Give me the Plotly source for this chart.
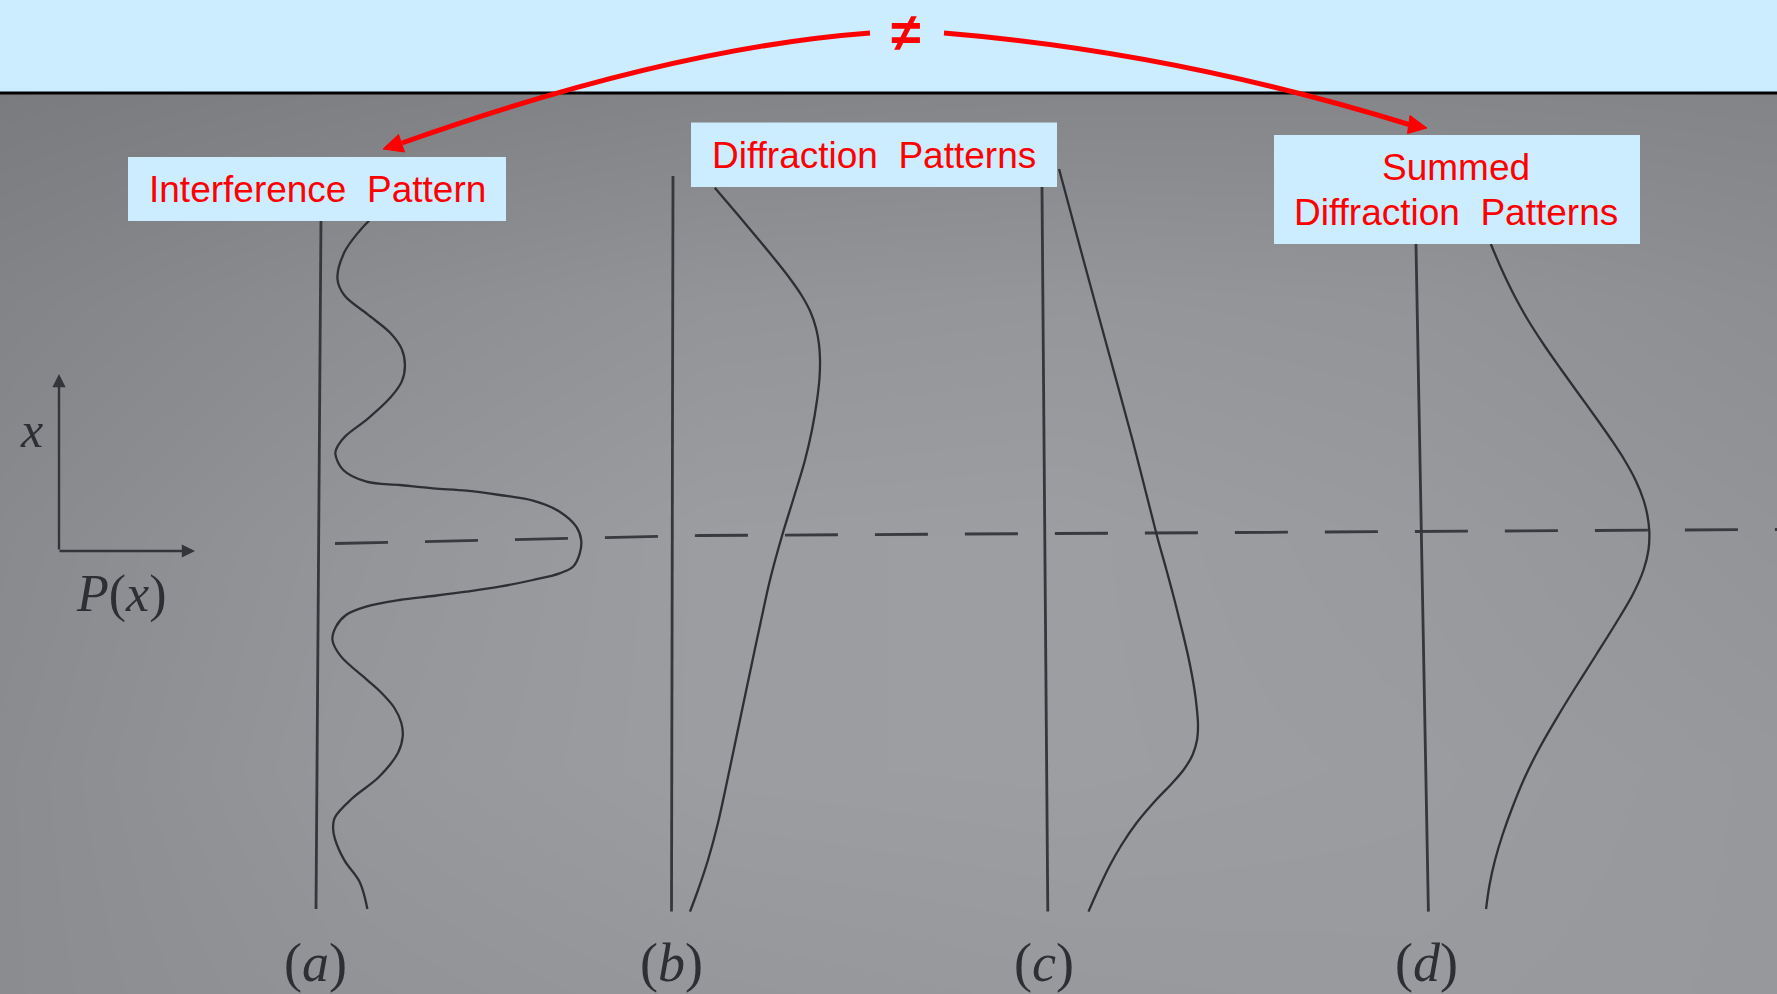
import plotly.graph_objects as go

W, H = 1777, 994

# ---- curve samples: height above the centre line (px) and P(x) measured from each panel's axis ----
A_POS = [322.5, 312.3, 290.7, 264.0, 247.7, 228.8, 210.0, 193.9, 177.7, 161.6, 145.4, 123.9, 107.8,
         98.0, 89.7, 73.0, 61.3, 58.0, 54.7, 52.3, 48.0, 42.3, 31.3, 16.3, 3.0,
         -10.3, -23.7, -30.3, -37.0, -43.7, -48.7, -53.0, -57.0, -63.7, -72.0, -83.7, -97.0,
         -112.9, -137.1, -150.0, -165.0, -180.0, -193.0, -209.8, -234.0, -255.5, -274.4, -285.0,
         -295.9, -317.4, -339.0, -365.9]
A_P = [48.3, 38.8, 23.6, 16.9, 23.9, 47.1, 70.2, 81.7, 85.0, 82.0, 70.7, 47.8, 27.0,
       19.0, 16.0, 24.1, 47.5, 80.8, 114.1, 147.5, 180.8, 214.1, 240.8, 257.5, 262.5,
       261.2, 254.5, 241.2, 214.5, 181.2, 147.9, 114.5, 81.2, 47.9, 27.9, 17.9, 14.5,
       22.7, 49.7, 64.0, 77.0, 84.0, 85.5, 80.9, 61.9, 35.3, 18.2, 16.5,
       18.4, 28.1, 43.5, 51.4]

B_POS = [349.3, 322, 297, 275, 257, 241, 225, 209, 193, 177, 159, 137, 107, 77, 37, 1,
         -43, -86, -133, -178, -233, -286, -323, -353, -374.6]
B_P = [41.8, 65.1, 86.1, 104.2, 118.2, 129.2, 137.8, 143.3, 146.3, 147.4, 146.9, 144.5, 139.5,
       132.6, 120.7, 109.7, 97.8, 88.4, 78.5, 69.1, 57.7, 46.3, 36.4, 26.5, 18.5]

C_POS = [364, 273, 183, 93, -3, -37, -67, -97, -127, -157, -177, -192, -207, -222, -237, -252,
         -267, -290, -312, -333, -357, -378.6]
C_P = [17.2, 40.9, 64.7, 88.5, 112.2, 121.4, 129.2, 136.5, 143.2, 148.5, 150.8, 151.7, 150.6,
       146.0, 136.8, 123.7, 109.1, 89.4, 74.2, 62.1, 50.4, 40.7]

D_POS = [287, 261, 236, 211, 186, 161, 136, 111, 91, 71, 51, 31, 15, -1, -19, -39, -64, -92,
         -124, -154, -184, -216, -246, -276, -304, -329, -354, -378]
D_P = [74.8, 85.5, 97.1, 110.6, 126.2, 143.2, 160.7, 178.3, 191.9, 204.5, 215.1, 222.8, 226.5,
       228.0, 226.8, 221.5, 210.0, 193.0, 172.4, 152.8, 133.8, 114.7, 99.1, 86.1, 75.5, 67.6,
       61.6, 57.7]

PANEL_TAGS = ["a", "b", "c", "d"]

# ---- page geometry of the four panels (axis top, axis bottom, centre-line height) ----
panels = [
    dict(pos=A_POS, p=A_P, top=(321.3, 176), bot=(316.0, 909.0), cy=543.0, tag=(315, 963)),
    dict(pos=B_POS, p=B_P, top=(673.0, 176), bot=(671.5, 911.6), cy=537.0, tag=(671, 963)),
    dict(pos=C_POS, p=C_P, top=(1041.9, 176), bot=(1047.8, 911.6), cy=533.0, tag=(1044, 963)),
    dict(pos=D_POS, p=D_P, top=(1414.7, 176), bot=(1428.4, 911.6), cy=531.0, tag=(1426, 963)),
]

# faint photographic shading of the printed page
BG_X = [0, 355, 710, 1065, 1420, 1777]
BG_Y = [94, 300, 540, 770, 994]
BG_Z = [
    [122, 127, 131, 133, 133, 131],
    [131, 140, 147, 149, 147, 141],
    [137, 148, 156, 157, 153, 147],
    [139, 150, 156, 157, 155, 151],
    [139, 146, 150, 152, 153, 151],
]

INK = "#2e2f34"
RED = "#ff0000"
BLUE_BOX = "#ccecff"

fig = go.Figure()

fig.add_trace(go.Heatmap(
    x=BG_X, y=BG_Y, z=BG_Z, zsmooth="best", showscale=False, hoverinfo="skip",
    zmin=100, zmax=180,
    colorscale=[[0, "rgb(100,101,105)"], [1, "rgb(180,181,185)"]],
))


def axis_x(pn, y):
    (x0, y0), (x1, y1) = pn["top"], pn["bot"]
    return x0 + (x1 - x0) * (y - y0) / (y1 - y0)


# dashed centre line across the panels
fig.add_trace(go.Scatter(
    x=[335, 700, 1777], y=[543.5, 535.5, 529.5], mode="lines",
    line=dict(color="#393a3f", width=2.8, dash="53px,37px"), hoverinfo="skip", showlegend=False,
))

for pn in panels:
    # vertical axis of the panel
    fig.add_trace(go.Scatter(
        x=[pn["top"][0], pn["bot"][0]], y=[pn["top"][1], pn["bot"][1]], mode="lines",
        line=dict(color="#36373c", width=2.8), hoverinfo="skip", showlegend=False,
    ))
    ys = [pn["cy"] - s for s in pn["pos"]]
    xs = [axis_x(pn, y) + p for y, p in zip(ys, pn["p"])]
    fig.add_trace(go.Scatter(
        x=xs, y=ys, mode="lines",
        line=dict(color=INK, width=2.3, shape="spline", smoothing=1.0, simplify=False),
        hoverinfo="skip", showlegend=False,
    ))

shapes = []
# title band
shapes.append(dict(type="rect", xref="x", yref="y", x0=0, x1=W, y0=-5, y1=93,
                   fillcolor=BLUE_BOX, line=dict(width=0), layer="above"))
shapes.append(dict(type="line", xref="x", yref="y", x0=0, x1=W, y0=93, y1=93,
                   line=dict(color="#000000", width=3), layer="above"))
# label boxes
for x0, x1, y0, y1 in [(128, 506, 157, 221), (691, 1057, 122.5, 187), (1274, 1640, 135, 244)]:
    shapes.append(dict(type="rect", xref="x", yref="y", x0=x0, x1=x1, y0=y0, y1=y1,
                       fillcolor=BLUE_BOX, line=dict(width=0), layer="above"))
# curved red arrows from the "not equal" sign
shapes.append(dict(type="path", xref="x", yref="y", path="M870,33 Q670,48 402,143",
                   line=dict(color=RED, width=5), layer="above"))
shapes.append(dict(type="path", xref="x", yref="y", path="M944,33 Q1175,52 1409,124.5",
                   line=dict(color=RED, width=5), layer="above"))
shapes.append(dict(type="path", xref="x", yref="y", path="M383,149 L398.5,134.5 L404.5,152 Z",
                   fillcolor=RED, line=dict(color=RED, width=1), layer="above"))
shapes.append(dict(type="path", xref="x", yref="y", path="M1427,128 L1410,115.5 L1407.5,133.5 Z",
                   fillcolor=RED, line=dict(color=RED, width=1), layer="above"))

annotations = []
# x / P(x) orientation arrows
annotations.append(dict(x=59, y=374, ax=59, ay=551, xref="x", yref="y", axref="x", ayref="y",
                        text="", showarrow=True, arrowhead=2, arrowsize=1.1, arrowwidth=2.4,
                        arrowcolor="#34353a"))
annotations.append(dict(x=195, y=551, ax=58, ay=551, xref="x", yref="y", axref="x", ayref="y",
                        text="", showarrow=True, arrowhead=2, arrowsize=1.1, arrowwidth=2.4,
                        arrowcolor="#34353a"))
serif = dict(family="Liberation Serif, DejaVu Serif, serif", color=INK)
annotations.append(dict(x=31, y=430, xref="x", yref="y", text="<i>x</i>", showarrow=False,
                        font=dict(size=50, **serif)))
annotations.append(dict(x=121, y=594, xref="x", yref="y", text="<i>P</i>(<i>x</i>)", showarrow=False,
                        font=dict(size=52, **serif)))
for pn, tag in zip(panels, PANEL_TAGS):
    annotations.append(dict(x=pn["tag"][0], y=pn["tag"][1], xref="x", yref="y",
                            text=f"(<i>{tag}</i>)", showarrow=False, font=dict(size=54, **serif)))

sans = dict(family="Liberation Sans, Arial, sans-serif", color=RED)
annotations.append(dict(x=906, y=32, xref="x", yref="y", text="<b>\u2260</b>", showarrow=False,
                        font=dict(size=54, **sans)))
annotations.append(dict(x=317, y=189, xref="x", yref="y", text="Interference\u00a0 Pattern",
                        showarrow=False, font=dict(size=37, **sans)))
annotations.append(dict(x=874, y=155, xref="x", yref="y", text="Diffraction\u00a0 Patterns",
                        showarrow=False, font=dict(size=37, **sans)))
annotations.append(dict(x=1456, y=167, xref="x", yref="y", text="Summed",
                        showarrow=False, font=dict(size=37, **sans)))
annotations.append(dict(x=1456, y=212, xref="x", yref="y", text="Diffraction\u00a0 Patterns",
                        showarrow=False, font=dict(size=37, **sans)))

fig.update_layout(
    width=W, height=H, margin=dict(l=0, r=0, t=0, b=0),
    paper_bgcolor=BLUE_BOX, plot_bgcolor="#8e8f93",
    xaxis=dict(range=[0, W], visible=False, fixedrange=True),
    yaxis=dict(range=[H, 0], visible=False, fixedrange=True),
    shapes=shapes, annotations=annotations, showlegend=False,
)

fig.write_html("out.html")
